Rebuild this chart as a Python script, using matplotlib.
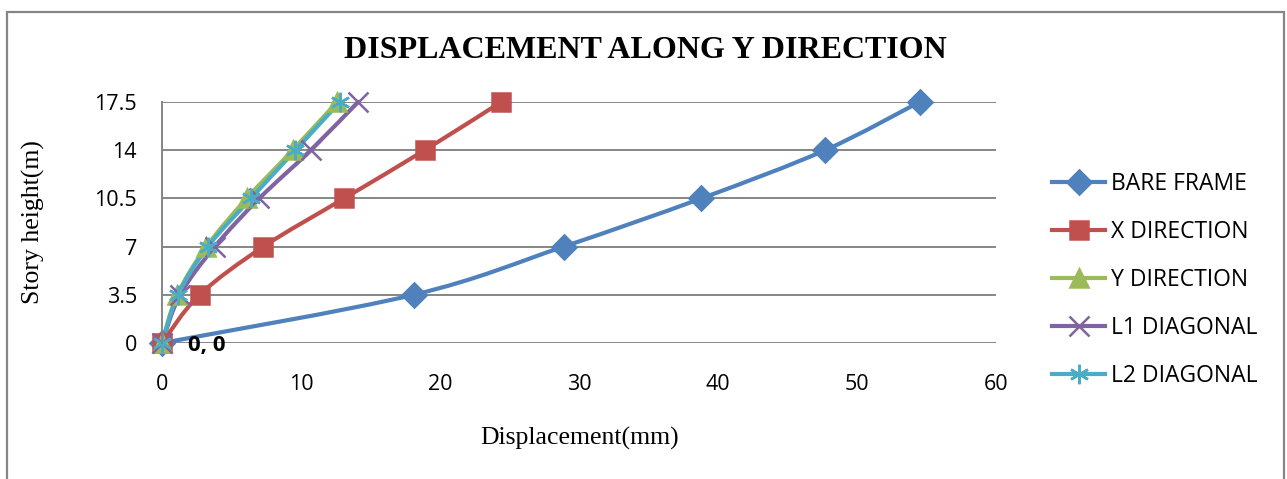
import matplotlib
matplotlib.use("Agg")
import matplotlib.pyplot as plt
from matplotlib.path import Path
from matplotlib.patches import PathPatch, Rectangle
from matplotlib.lines import Line2D
import numpy as np

# Story heights (m) and lateral displacement (mm) per model
story_height = [0, 3.5, 7, 10.5, 14, 17.5]
bare_frame = [0, 18.1, 28.9, 38.8, 47.7, 54.5]
x_direction = [0, 2.7, 7.3, 13.1, 18.9, 24.4]
y_direction = [0, 1.1, 3.2, 6.1, 9.4, 12.6]
l1_diagonal = [0, 1.3, 3.8, 7.0, 10.7, 14.1]
l2_diagonal = [0, 1.15, 3.3, 6.4, 9.6, 12.8]

series_names = ["BARE FRAME", "X DIRECTION", "Y DIRECTION", "L1 DIAGONAL", "L2 DIAGONAL"]
series_values = [bare_frame, x_direction, y_direction, l1_diagonal, l2_diagonal]
x_ticks = [0, 10, 20, 30, 40, 50, 60]
y_ticks = [0, 3.5, 7, 10.5, 14, 17.5]

colors = ["#4F81BD", "#C0504D", "#9BBB59", "#8064A2", "#4BACC6"]
markers = ["D", "s", "^", "x", (6, 2, 0)]
msizes = [12, 13, 13, 14, 14]

SANS = "Open Sans"
SERIF = "Liberation Serif"
GRID = "#868686"


def smooth_path(xs, ys):
    """Catmull-Rom style cubic Bezier through the points."""
    pts = np.column_stack([xs, ys]).astype(float)
    verts = [pts[0]]
    codes = [Path.MOVETO]
    n = len(pts)
    for i in range(n - 1):
        p0 = pts[i - 1] if i > 0 else pts[i]
        p1 = pts[i]
        p2 = pts[i + 1]
        p3 = pts[i + 2] if i + 2 < n else pts[i + 1]
        c1 = p1 + (p2 - p0) / 6.0
        c2 = p2 - (p3 - p1) / 6.0
        verts += [c1, c2, p2]
        codes += [Path.CURVE4] * 3
    return Path(verts, codes)


fig = plt.figure(figsize=(12.87, 4.79), dpi=100)
ax = fig.add_axes([162 / 1287, 136 / 479, 834 / 1287, 241 / 479])

for name, vals, c, m, ms in zip(series_names, series_values, colors, markers, msizes):
    patch = PathPatch(smooth_path(vals, story_height), facecolor="none",
                      edgecolor=c, lw=3.0, capstyle="round", joinstyle="round")
    patch.set_clip_on(False)
    ax.add_patch(patch)
    ax.plot(vals, story_height, linestyle="none", marker=m, markersize=ms,
            color=c, markeredgecolor=c, markeredgewidth=1.8, clip_on=False)

ax.set_xlim(0, 60)
ax.set_ylim(0, 17.5)
ax.set_xticks(x_ticks)
ax.set_yticks(y_ticks)
ax.set_xticklabels([str(v) for v in x_ticks], fontfamily=SANS, fontsize=15.5)
ax.set_yticklabels([f"{v:g}" for v in y_ticks], fontfamily=SANS, fontsize=15.5)
ax.tick_params(axis="x", length=0, pad=22)
ax.tick_params(axis="y", length=0, pad=18)
ax.yaxis.grid(True, color=GRID, lw=1.4)
ax.set_axisbelow(True)
for s in ["top", "right", "bottom"]:
    ax.spines[s].set_visible(False)
ax.spines["left"].set_color(GRID)
ax.spines["left"].set_linewidth(1.4)

# data label for the origin point
ax.annotate(f"{y_direction[0]:g}, {story_height[0]:g}", xy=(y_direction[0], story_height[0]),
            xytext=(19, -2), textcoords="offset points", ha="left", va="center",
            fontfamily=SANS, fontweight="bold", fontsize=16, color="black",
            annotation_clip=False)

fig.text(645 / 1287, 1 - 50 / 479, "DISPLACEMENT ALONG Y DIRECTION",
         ha="center", va="center", fontfamily=SERIF, fontweight="bold", fontsize=23)
fig.text(33 / 1287, 1 - 222 / 479, "Story height(m)", rotation=90,
         ha="center", va="center", fontfamily=SERIF, fontsize=18.5)
fig.text(580 / 1287, 1 - 438 / 479, "Displacement(mm)",
         ha="center", va="center", fontfamily=SERIF, fontsize=18.5)

handles = [Line2D([0], [0], color=c, lw=3.0, marker=m, markersize=ms,
                  markeredgecolor=c, markeredgewidth=1.8)
           for c, m, ms in zip(colors, markers, msizes)]
leg = fig.legend(handles, series_names, loc="center left",
                 bbox_to_anchor=(1043 / 1287, 1 - 280 / 479),
                 frameon=False, handlelength=2.3, handletextpad=0.26,
                 labelspacing=1.05, borderaxespad=0,
                 prop={"family": SANS, "size": 16.5})

# outer chart border
fig.patches.append(Rectangle((7 / 1287, -0.05), 1277 / 1287, 1.05 - 12 / 479,
                             transform=fig.transFigure, fill=False,
                             edgecolor=GRID, lw=1.6))

fig.savefig("out.png", dpi=100)
